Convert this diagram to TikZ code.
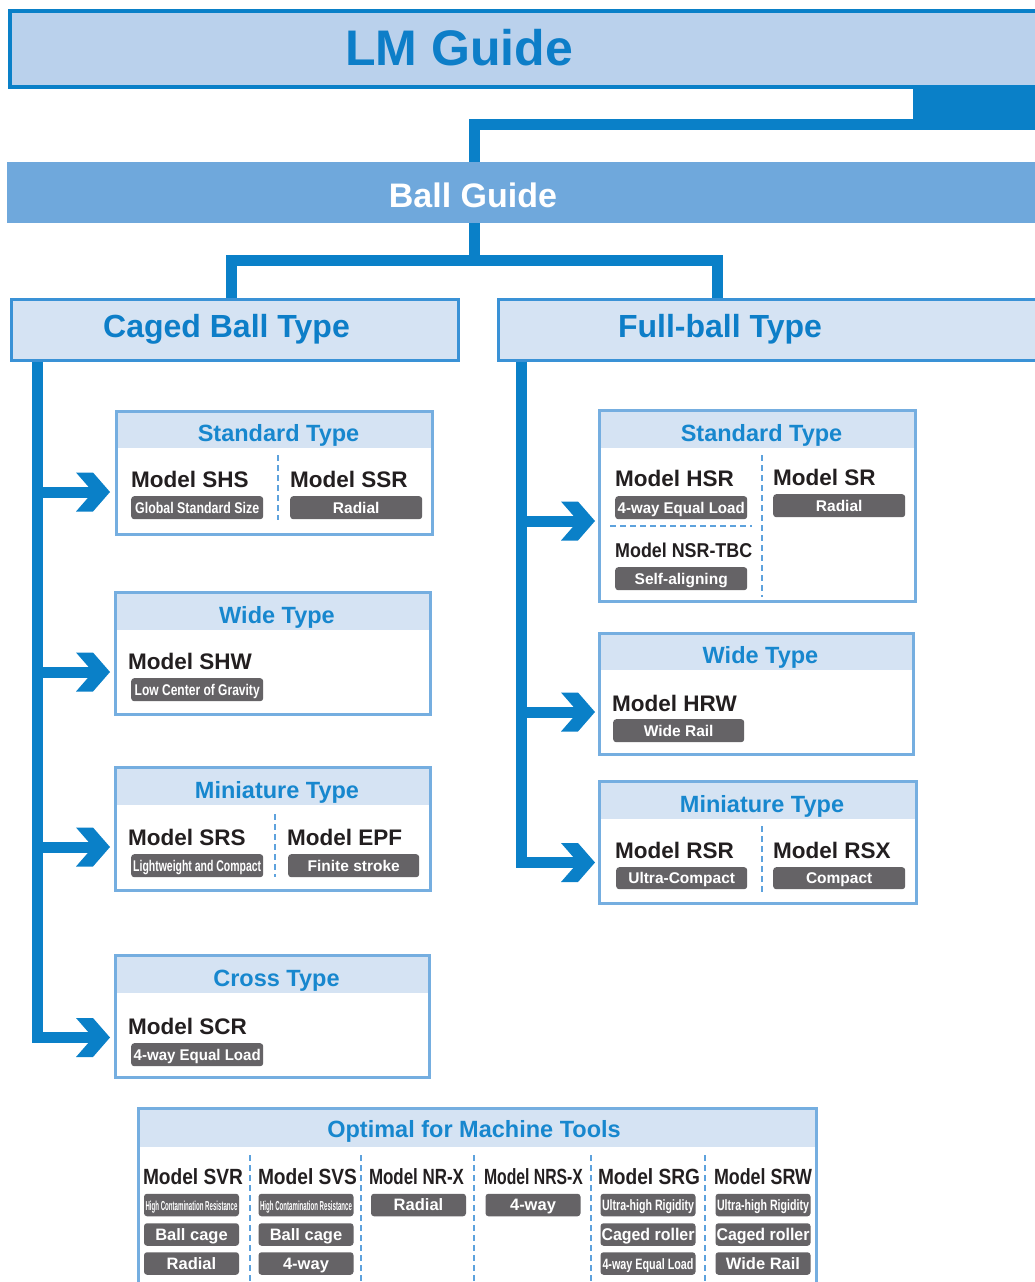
\documentclass[tikz,border=0pt]{standalone}
\usepackage{fontspec}
\setmainfont{Liberation Sans}
\usepackage{graphicx}
\definecolor{cblue}{HTML}{0A80C8}
\definecolor{lmfill}{HTML}{BAD1EC}
\definecolor{ballfill}{HTML}{6FA8DC}
\definecolor{hdrfill}{HTML}{D5E3F3}
\definecolor{typeborder}{HTML}{3A92D6}
\definecolor{subborder}{HTML}{75AEE0}
\definecolor{titleblue}{HTML}{0D7EC8}
\definecolor{subtitleblue}{HTML}{1787CE}
\definecolor{tagfill}{HTML}{656366}
\definecolor{textdark}{HTML}{231F20}
\definecolor{dashcol}{HTML}{5DA2DD}
\newcommand\fs[1]{\fontsize{#1}{#1}\selectfont}
\newcommand\sq[2]{\resizebox{#1pt}{\height}{#2}}
\tikzset{
  conn/.style={draw=cblue, line width=11pt, line join=miter},
  subbox/.style={draw=subborder, line width=3pt, fill=white, inner sep=0pt, outer sep=0pt},
  tagbox/.style={fill=tagfill, rounded corners=3pt, inner sep=0pt},
  tagtext/.style={text=white, font=\fs{15.5}\bfseries, inner sep=0pt, anchor=base},
  model/.style={font=\fs{22.5}\bfseries, text=textdark, inner sep=0pt, anchor=base west},
  subtitle/.style={font=\fs{23.5}\bfseries, text=subtitleblue, inner sep=0pt, anchor=base},
  divider/.style={draw=dashcol, line width=2pt, dash pattern=on 6pt off 4pt},
  bigtitle/.style={font=\fs{32}\bfseries, text=titleblue, inner sep=0pt, anchor=base},
  mtmodel/.style={font=\fs{22}\bfseries, text=textdark, inner sep=0pt, anchor=base},
}
% name x1 y1 x2 y2 yheader title
\newcommand\subpanel[7]{%
  \node[subbox, anchor=north west, minimum width={#4-#2}, minimum height={#5-#3}] (#1) at (#2,#3) {};
  \fill[hdrfill] (#2+1.5,#3+1.5) rectangle (#4-1.5,#6);
  \node[subtitle] (#1-t) at ({(#2+#4)/2+4},#6-7) {#7};
}
% name x y w h text   (north west corner)
\newcommand\tagat[6]{%
  \node[tagbox, anchor=north west, minimum width=#4, minimum height=#5] (#1) at (#2,#3) {};
  \node[tagtext] (#1-l) at ([yshift=-5.6pt]#1.center) {#6};}
% name cx cy text  (machine tool tags, centred)
\newcommand\mtag[4]{%
  \node[tagbox, minimum width=95, minimum height=22.5] (#1) at (#2,#3) {};
  \node[tagtext, font=\fs{16.5}\bfseries] (#1-l) at ([yshift=-5.8pt]#1.center) {#4};}
% tip x, y
\newcommand\chev[2]{\fill[cblue] (#1,#2) -- ++(-17,-19.5) -- ++(-17,0) -- ++(17,19.5) -- ++(-17,19.5) -- ++(17,0) -- cycle;}
\begin{document}
\begin{tikzpicture}[x=1pt,y=-1pt]
\useasboundingbox (0,0) rectangle (1035,1282);
\clip (0,0) rectangle (1035,1282);

% LM Guide
\node[draw=cblue, line width=4pt, fill=lmfill, anchor=north west, minimum width=1040, minimum height=76, inner sep=0pt] (lm) at (7.5,9) {};
\node[font=\fs{50}\bfseries, text=titleblue, inner sep=0pt, anchor=base] (lm-t) at (459,65) {LM Guide};
\node[fill=cblue, anchor=north west, minimum width=130, minimum height=45, inner sep=0pt] (lmtab) at (913,85) {};

% Ball Guide
\node[fill=ballfill, anchor=north west, minimum width=1035, minimum height=61, inner sep=0pt] (ball) at (7,162) {};
\node[font=\fs{34}\bfseries, text=white, inner sep=0pt, anchor=base] (ball-t) at (473,207) {Ball Guide};

\coordinate (c1) at (474.5,124.5);
\draw[conn] (lmtab.south west |- c1) -- (c1) -- (c1 |- ball.north);

% type boxes
\node[draw=typeborder, line width=3pt, fill=hdrfill, anchor=north west, minimum width=447, minimum height=61, inner sep=0pt] (caged) at (10,297.5) {};
\node[bigtitle] (caged-t) at (226.5,337) {Caged Ball Type};
\node[draw=typeborder, line width=3pt, fill=hdrfill, anchor=north west, minimum width=560, minimum height=61, inner sep=0pt] (full) at (496.5,297.5) {};
\node[bigtitle] (full-t) at (720,337) {Full-ball Type};

\coordinate (c2) at (474.5,260.5);
\coordinate (c3) at (231.5,260.5);
\coordinate (c4) at (717,260.5);
\draw[conn] (ball.south -| c2) -- (c2);
\draw[conn] (c3 |- caged.north) -- (c3) -- (c4) -- (c4 |- full.north);

% spines
\coordinate (sL) at (37.5,1037.5);
\coordinate (sR) at (521.5,862.5);
\draw[conn] (sL |- caged.south) -- (sL) -- (95,1037.5);
\draw[conn] (37.5,492) -- (95,492);
\draw[conn] (37.5,672) -- (95,672);
\draw[conn] (37.5,847) -- (95,847);
\chev{110}{492}\chev{110}{672}\chev{110}{847}\chev{110}{1037.5}
\draw[conn] (sR |- full.south) -- (sR) -- (580,862.5);
\draw[conn] (521.5,521) -- (580,521);
\draw[conn] (521.5,712) -- (580,712);
\chev{595}{521}\chev{595}{712}\chev{595}{862.5}

% Caged: Standard
\subpanel{cstd}{116.5}{411.5}{432.5}{534.5}{448}{Standard Type}
\node[model] (m-shs) at (131,487) {Model SHS};
\node[model] (m-ssr) at (290,487) {Model SSR};
\tagat{t-shs}{131}{496}{132}{23}{\sq{124}{Global Standard Size}}
\tagat{t-ssr}{290}{496}{132}{23}{Radial}
\draw[divider] (278,455) -- (278,520);

% Caged: Wide
\subpanel{cwide}{115.5}{592.5}{430.5}{714.5}{630}{Wide Type}
\node[model] (m-shw) at (128,669) {Model SHW};
\tagat{t-shw}{131}{678}{132}{23}{\sq{125}{Low Center of Gravity}}

% Caged: Miniature
\subpanel{cmini}{115.5}{767.5}{430.5}{890.5}{805}{Miniature Type}
\node[model] (m-srs) at (128,845) {Model SRS};
\node[model] (m-epf) at (287,845) {Model EPF};
\tagat{t-srs}{131}{854}{132}{23}{\sq{128}{Lightweight and Compact}}
\tagat{t-epf}{288}{854}{131}{23}{Finite stroke}
\draw[divider] (275,814) -- (275,877);

% Caged: Cross
\subpanel{ccross}{115.5}{955.5}{429.5}{1077.5}{993}{Cross Type}
\node[model] (m-scr) at (128,1034) {Model SCR};
\tagat{t-scr}{131}{1043}{132}{23}{\sq{127}{4-way Equal Load}}

% Full: Standard
\subpanel{fstd}{599.5}{410.5}{915.5}{601.5}{448}{Standard Type}
\node[model] (m-hsr) at (615,486) {Model HSR};
\node[model] (m-sr) at (773,485) {Model SR};
\tagat{t-hsr}{615}{496}{132}{23}{\sq{127}{4-way Equal Load}}
\tagat{t-sr}{773}{494}{132}{23}{Radial}
\node[model, font=\fs{20}\bfseries] (m-nsr) at (615,557) {\sq{137}{Model NSR-TBC}};
\tagat{t-nsr}{615}{567}{132}{23}{Self-aligning}
\draw[divider] (762,455) -- (762,597);
\draw[divider] (610,526) -- (752,526);

% Full: Wide
\subpanel{fwide}{599.5}{633.5}{913.5}{754.5}{670}{Wide Type}
\node[model] (m-hrw) at (612,711) {Model HRW};
\tagat{t-hrw}{613}{719}{131}{23}{Wide Rail}

% Full: Miniature
\subpanel{fmini}{599.5}{781.5}{916.5}{903.5}{819}{Miniature Type}
\node[model] (m-rsr) at (615,858) {Model RSR};
\node[model] (m-rsx) at (773,858) {Model RSX};
\tagat{t-rsr}{616}{867}{131}{22}{Ultra-Compact}
\tagat{t-rsx}{773}{867}{132}{22}{Compact}
\draw[divider] (762,826) -- (762,895);

% Machine tools
\node[subbox, anchor=north west, minimum width=678, minimum height=200] (mt) at (138.5,1108.5) {};
\fill[hdrfill] (140,1110) rectangle (815,1147);
\node[subtitle] (mt-t) at (474,1137) {Optimal for Machine Tools};
\foreach \x in {250,361,474,591,705} \draw[divider] (\x,1155) -- (\x,1290);
\node[mtmodel] (mt1) at (193,1184) {\sq{100}{Model SVR}};
\node[mtmodel] (mt2) at (307.5,1184) {\sq{99}{Model SVS}};
\node[mtmodel] (mt3) at (416.5,1184) {\sq{95}{Model NR-X}};
\node[mtmodel] (mt4) at (533.5,1184) {\sq{99}{Model NRS-X}};
\node[mtmodel] (mt5) at (649,1184) {\sq{102}{Model SRG}};
\node[mtmodel] (mt6) at (763,1184) {\sq{98}{Model SRW}};
% column 1
\mtag{mt1a}{191.5}{1205}{\fs{13}\sq{92}{High Contamination Resistance}}
\mtag{mt1b}{191.5}{1234.5}{Ball cage}
\mtag{mt1c}{191.5}{1263.5}{Radial}
% column 2
\mtag{mt2a}{306}{1205}{\fs{13}\sq{92}{High Contamination Resistance}}
\mtag{mt2b}{306}{1234.5}{Ball cage}
\mtag{mt2c}{306}{1263.5}{4-way}
% column 3
\mtag{mt3a}{418.5}{1205}{Radial}
% column 4
\mtag{mt4a}{533}{1205}{4-way}
% column 5
\mtag{mt5a}{648}{1205}{\fs{15}\sq{92}{Ultra-high Rigidity}}
\mtag{mt5b}{648}{1234.5}{\fs{17}\sq{93}{Caged roller}}
\mtag{mt5c}{648}{1263.5}{\fs{15}\sq{91}{4-way Equal Load}}
% column 6
\mtag{mt6a}{763}{1205}{\fs{15}\sq{92}{Ultra-high Rigidity}}
\mtag{mt6b}{763}{1234.5}{\fs{17}\sq{93}{Caged roller}}
\mtag{mt6c}{763}{1263.5}{Wide Rail}
\end{tikzpicture}
\end{document}
